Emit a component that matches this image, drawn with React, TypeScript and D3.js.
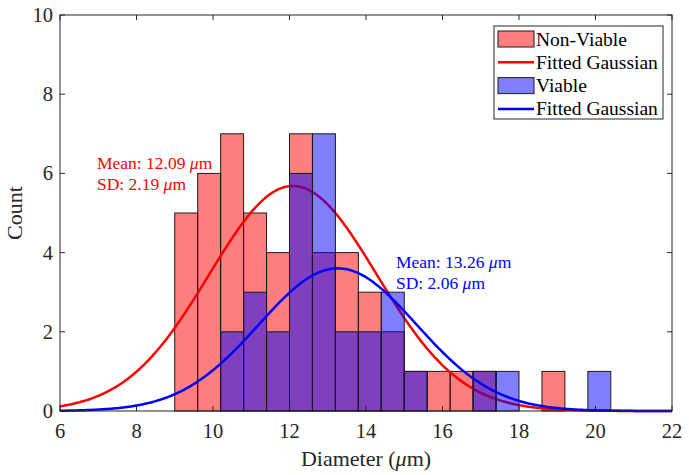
import { useEffect, useRef } from 'react';
import * as d3 from 'd3';

// histogram bins (left edges, µm) and counts
const binStarts = [9.0, 9.6, 10.2, 10.8, 11.4, 12.0, 12.6, 13.2, 13.8, 14.4, 15.0, 15.6, 16.2, 16.8, 17.4, 18.0, 18.6, 19.2, 19.8];
const binWidth = 0.6;
const nonViableCounts = [5, 6, 7, 5, 4, 7, 4, 4, 3, 2, 1, 1, 1, 1, 0, 0, 1, 0, 0];
const viableCounts = [0, 0, 2, 3, 2, 6, 7, 2, 2, 3, 1, 0, 0, 1, 1, 0, 0, 0, 1];

// fitted gaussian parameters
const nonViableMean = 12.09;
const nonViableSD = 2.19;
const viableMean = 13.26;
const viableSD = 2.06;

const xTicks = [6, 8, 10, 12, 14, 16, 18, 20, 22];
const yTicks = [0, 2, 4, 6, 8, 10];

const W = 689;
const H = 475;
const FONT = '"Liberation Serif", "Times New Roman", serif';
const AXIS = '#262626';

const App = () => {
  const svgRef = useRef<SVGSVGElement>(null);

  useEffect(() => {
    document.body.style.margin = '0';
    const svg = d3.select(svgRef.current);
    svg.selectAll('*').remove();

    const margin = { top: 15, right: 17, bottom: 64, left: 60 };
    const width = W - margin.left - margin.right;
    const height = H - margin.top - margin.bottom;

    const x = d3.scaleLinear().domain([6, 22]).range([0, width]);
    const y = d3.scaleLinear().domain([0, 10]).range([height, 0]);

    const g = svg.append('g').attr('transform', `translate(${margin.left},${margin.top})`);

    const gauss = (mean: number, sd: number, counts: number[]) => {
      const n = d3.sum(counts);
      const amp = (n * binWidth) / (sd * Math.sqrt(2 * Math.PI));
      return d3.range(6, 22.001, 0.05).map((v) => [v, amp * Math.exp(-((v - mean) ** 2) / (2 * sd * sd))]);
    };

    const line = d3
      .line<number[]>()
      .x((d) => x(d[0]))
      .y((d) => y(d[1]));

    const drawBars = (counts: number[], color: string) => {
      g.append('g')
        .selectAll('rect')
        .data(binStarts.map((s, i) => ({ s, c: counts[i] })).filter((d) => d.c > 0))
        .enter()
        .append('rect')
        .attr('x', (d) => x(d.s))
        .attr('width', x(binWidth) - x(0))
        .attr('y', (d) => y(d.c))
        .attr('height', (d) => y(0) - y(d.c))
        .attr('fill', color)
        .attr('fill-opacity', 0.5)
        .attr('stroke', '#1a1a1a')
        .attr('stroke-width', 1);
    };

    const drawCurve = (mean: number, sd: number, counts: number[], color: string) => {
      g.append('path')
        .datum(gauss(mean, sd, counts))
        .attr('d', line)
        .attr('fill', 'none')
        .attr('stroke', color)
        .attr('stroke-width', 2.5);
    };

    drawBars(nonViableCounts, '#ff0000');
    drawCurve(nonViableMean, nonViableSD, nonViableCounts, '#ff0000');
    drawBars(viableCounts, '#0000ff');
    drawCurve(viableMean, viableSD, viableCounts, '#0000ff');

    // axes box with inward ticks
    const tl = 5;
    const axes = g.append('g').attr('stroke', AXIS).attr('stroke-width', 1);
    axes.append('rect').attr('width', width).attr('height', height).attr('fill', 'none');
    xTicks.forEach((t) => {
      axes.append('line').attr('x1', x(t)).attr('x2', x(t)).attr('y1', height).attr('y2', height - tl);
      axes.append('line').attr('x1', x(t)).attr('x2', x(t)).attr('y1', 0).attr('y2', tl);
    });
    yTicks.forEach((t) => {
      axes.append('line').attr('x1', 0).attr('x2', tl).attr('y1', y(t)).attr('y2', y(t));
      axes.append('line').attr('x1', width).attr('x2', width - tl).attr('y1', y(t)).attr('y2', y(t));
    });

    g.append('g')
      .selectAll('text')
      .data(xTicks)
      .enter()
      .append('text')
      .attr('x', (d) => x(d))
      .attr('y', height + 27)
      .attr('text-anchor', 'middle')
      .style('font-family', FONT)
      .style('font-size', '20.5px')
      .attr('fill', AXIS)
      .text((d) => d);

    g.append('g')
      .selectAll('text')
      .data(yTicks)
      .enter()
      .append('text')
      .attr('x', -7)
      .attr('y', (d) => y(d) + 7)
      .attr('text-anchor', 'end')
      .style('font-family', FONT)
      .style('font-size', '20.5px')
      .attr('fill', AXIS)
      .text((d) => d);

    // axis labels
    const xl = g
      .append('text')
      .attr('x', width / 2)
      .attr('y', height + 55)
      .attr('text-anchor', 'middle')
      .style('font-family', FONT)
      .style('font-size', '22px')
      .attr('fill', AXIS);
    xl.append('tspan').text('Diameter (');
    xl.append('tspan').style('font-style', 'italic').text('μ');
    xl.append('tspan').text('m)');

    g.append('text')
      .attr('transform', `translate(-38,${height / 2}) rotate(-90)`)
      .attr('text-anchor', 'middle')
      .style('font-family', FONT)
      .style('font-size', '22px')
      .attr('fill', AXIS)
      .text('Count');

    // annotations
    const annotate = (px: number, py: number, mean: number, sd: number, color: string) => {
      const rows = [`Mean: ${mean.toFixed(2)} `, `SD: ${sd.toFixed(2)} `];
      rows.forEach((r, i) => {
        const t = svg
          .append('text')
          .attr('x', px)
          .attr('y', py + i * 21)
          .style('font-family', FONT)
          .style('font-size', '17.5px')
          .attr('fill', color);
        t.append('tspan').text(r);
        t.append('tspan').style('font-style', 'italic').text('μ');
        t.append('tspan').text('m');
      });
    };
    annotate(97, 169, nonViableMean, nonViableSD, '#ff0000');
    annotate(396, 268, viableMean, viableSD, '#0000ff');

    // legend
    const lg = svg.append('g').attr('transform', 'translate(494,26)');
    lg.append('rect').attr('width', 169).attr('height', 93).attr('fill', '#fff').attr('stroke', AXIS).attr('stroke-width', 1);
    const items = [
      { label: 'Non-Viable', color: '#ff0000', type: 'patch' },
      { label: 'Fitted Gaussian', color: '#ff0000', type: 'line' },
      { label: 'Viable', color: '#0000ff', type: 'patch' },
      { label: 'Fitted Gaussian', color: '#0000ff', type: 'line' },
    ];
    items.forEach((it, i) => {
      const cy = 13 + i * 23.3;
      if (it.type === 'patch') {
        lg.append('rect')
          .attr('x', 4)
          .attr('y', cy - 8)
          .attr('width', 36)
          .attr('height', 16)
          .attr('fill', it.color)
          .attr('fill-opacity', 0.5)
          .attr('stroke', '#1a1a1a');
      } else {
        lg.append('line')
          .attr('x1', 4)
          .attr('x2', 40)
          .attr('y1', cy)
          .attr('y2', cy)
          .attr('stroke', it.color)
          .attr('stroke-width', 2.5);
      }
      lg.append('text')
        .attr('x', 42)
        .attr('y', cy + 6.5)
        .style('font-family', FONT)
        .style('font-size', '19.5px')
        .attr('fill', '#000')
        .text(it.label);
    });
  }, []);

  return <svg ref={svgRef} width={W} height={H} style={{ display: 'block', background: '#fff' }} />;
};

export default App;
